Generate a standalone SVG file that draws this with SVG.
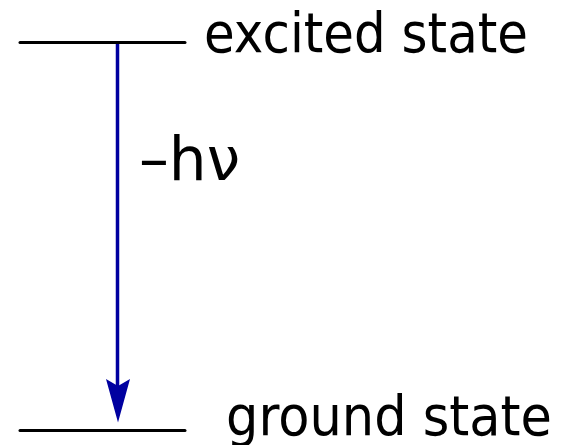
<svg xmlns="http://www.w3.org/2000/svg" width="568" height="445" viewBox="0 0 568 445">
<style>
.lvl{stroke:#000;stroke-width:3;stroke-linecap:round;fill:none}
.lbl{font-family:"DejaVu Sans","Verdana",sans-serif;fill:#000}
.arr{stroke:#0000a0;stroke-width:3.5;fill:none}
</style>
<g id="excited">
<line class="lvl" x1="20" y1="42.5" x2="185" y2="42.5"/>
<text class="lbl" x="204" y="52" font-size="55" textLength="324" lengthAdjust="spacingAndGlyphs">excited state</text>
</g>
<g id="ground">
<line class="lvl" x1="20" y1="430.5" x2="185" y2="430.5"/>
<text class="lbl" x="226" y="435" font-size="56" textLength="326" lengthAdjust="spacingAndGlyphs">ground state</text>
</g>
<g id="connectors">
<line class="arr" x1="117.5" y1="44" x2="117.5" y2="390"/>
<path d="M106,379 L118,386 L130,379 L118,422.5 Z" fill="#0000a0"/>
<text class="lbl" x="139" y="180" font-size="61" textLength="101" lengthAdjust="spacingAndGlyphs">–hν</text>
</g>
</svg>
